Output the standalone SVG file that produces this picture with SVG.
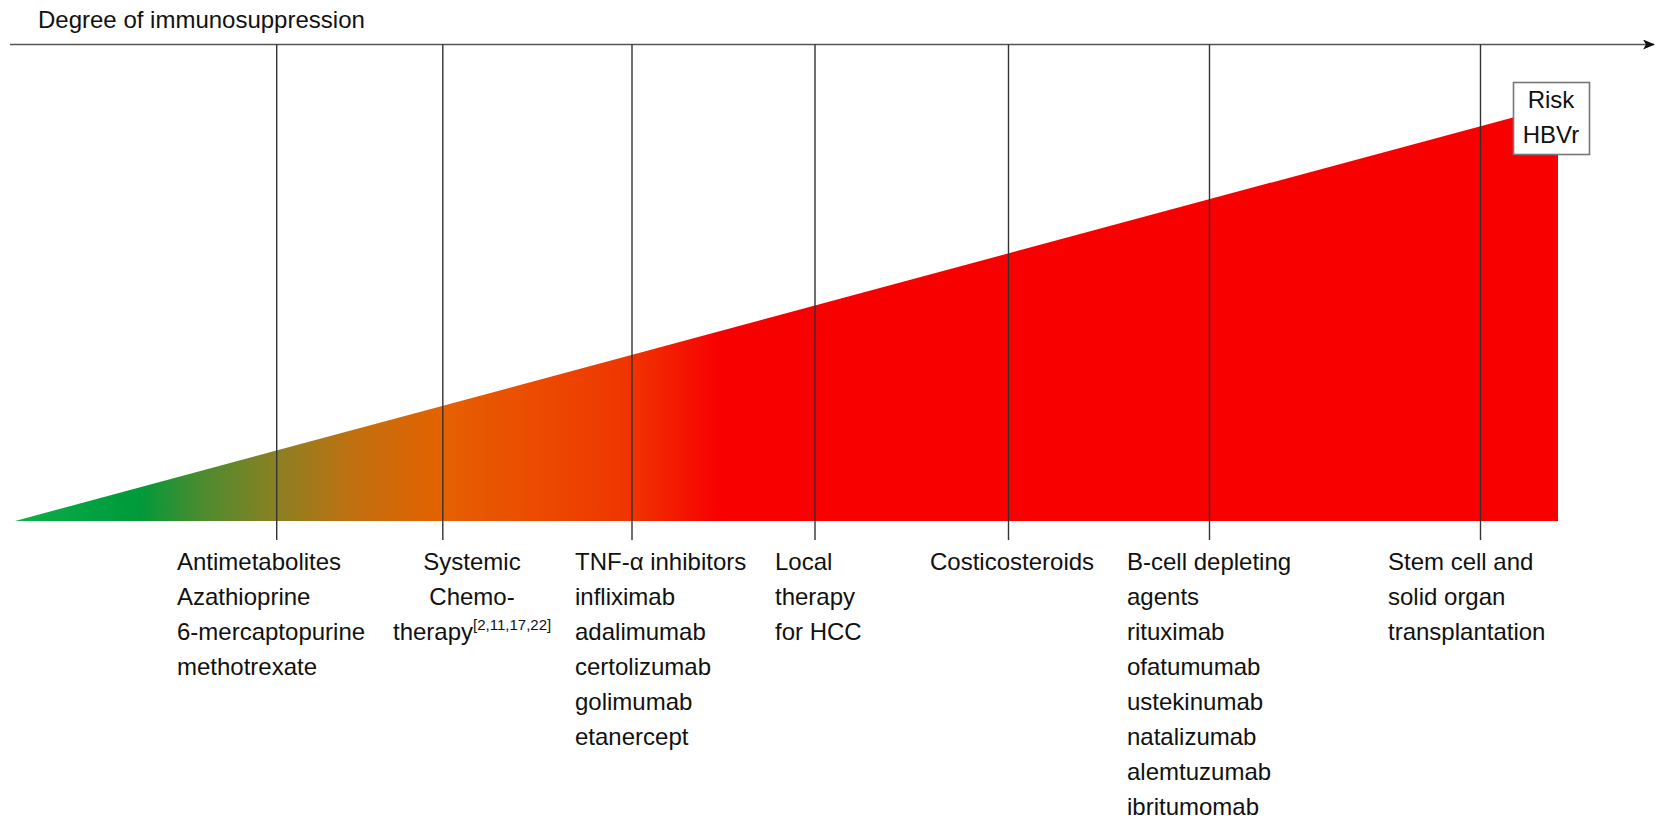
<svg xmlns="http://www.w3.org/2000/svg" width="1661" height="819" viewBox="0 0 1661 819">
  <style>
    .lbl { font-family: "Liberation Sans", Arial, sans-serif; font-size: 24px; fill: #111; }
    .sup { font-size: 15px; }
    .tick { stroke: #333; stroke-width: 1.4; fill: none; }
    .axis { stroke: #555; stroke-width: 1.6; fill: none; }
    .box { fill: #fff; stroke: #777; stroke-width: 1.6; }
  </style>
  <defs>
    <marker id="arrow" markerWidth="12" markerHeight="10" refX="11" refY="5" orient="auto" markerUnits="userSpaceOnUse">
      <path d="M0,0 L12,5 L0,10 L3,5 Z" fill="#111"/>
    </marker>
    <linearGradient id="risk" gradientUnits="userSpaceOnUse" x1="15" y1="0" x2="720" y2="0">
      <stop offset="0" stop-color="#10b04c"/>
      <stop offset="0.12" stop-color="#00a040"/>
      <stop offset="0.177" stop-color="#009a3a"/>
      <stop offset="0.262" stop-color="#4a8c30"/>
      <stop offset="0.37" stop-color="#8a8022"/>
      <stop offset="0.48" stop-color="#c07010"/>
      <stop offset="0.60" stop-color="#e46200"/>
      <stop offset="0.72" stop-color="#eb4e00"/>
      <stop offset="0.875" stop-color="#f03400"/>
      <stop offset="0.94" stop-color="#f41800"/>
      <stop offset="1" stop-color="#f80000"/>
    </linearGradient>
  </defs>

  <rect width="1661" height="819" fill="#fff"/>

  <!-- rising risk wedge -->
  <g id="risk-wedge">
    <polygon points="15,521 1558,521 1558,105.3" fill="url(#risk)"/>
  </g>

  <!-- horizontal axis -->
  <g id="axis">
    <line class="axis" x1="10" y1="44.5" x2="1654" y2="44.5" marker-end="url(#arrow)"/>
    <text class="lbl" x="38" y="28">Degree of immunosuppression</text>
  </g>

  <!-- tick lines -->
  <g id="connectors">
    <line class="tick" x1="276.7" y1="44.5" x2="276.7" y2="540"/>
    <line class="tick" x1="442.8" y1="44.5" x2="442.8" y2="540"/>
    <line class="tick" x1="632" y1="44.5" x2="632" y2="540"/>
    <line class="tick" x1="815" y1="44.5" x2="815" y2="540"/>
    <line class="tick" x1="1008.5" y1="44.5" x2="1008.5" y2="540"/>
    <line class="tick" x1="1209.5" y1="44.5" x2="1209.5" y2="540"/>
    <line class="tick" x1="1480.5" y1="44.5" x2="1480.5" y2="540"/>
  </g>

  <g id="antimetabolites">
    <text class="lbl" x="177" y="570">Antimetabolites</text>
    <text class="lbl" x="177" y="605">Azathioprine</text>
    <text class="lbl" x="177" y="640">6-mercaptopurine</text>
    <text class="lbl" x="177" y="675">methotrexate</text>
  </g>

  <g id="chemotherapy">
    <text class="lbl" x="472" y="570" text-anchor="middle">Systemic</text>
    <text class="lbl" x="472" y="605" text-anchor="middle">Chemo-</text>
    <text class="lbl" x="393" y="640">therapy<tspan class="sup" dy="-10">[2,11,17,22]</tspan></text>
  </g>

  <g id="tnf-inhibitors">
    <text class="lbl" x="575" y="570">TNF-α inhibitors</text>
    <text class="lbl" x="575" y="605">infliximab</text>
    <text class="lbl" x="575" y="640">adalimumab</text>
    <text class="lbl" x="575" y="675">certolizumab</text>
    <text class="lbl" x="575" y="710">golimumab</text>
    <text class="lbl" x="575" y="745">etanercept</text>
  </g>

  <g id="local-therapy">
    <text class="lbl" x="775" y="570">Local</text>
    <text class="lbl" x="775" y="605">therapy</text>
    <text class="lbl" x="775" y="640">for HCC</text>
  </g>

  <g id="corticosteroids">
    <text class="lbl" x="930" y="570">Costicosteroids</text>
  </g>

  <g id="b-cell-depleting">
    <text class="lbl" x="1127" y="570">B-cell depleting</text>
    <text class="lbl" x="1127" y="605">agents</text>
    <text class="lbl" x="1127" y="640">rituximab</text>
    <text class="lbl" x="1127" y="675">ofatumumab</text>
    <text class="lbl" x="1127" y="710">ustekinumab</text>
    <text class="lbl" x="1127" y="745">natalizumab</text>
    <text class="lbl" x="1127" y="780">alemtuzumab</text>
    <text class="lbl" x="1127" y="815">ibritumomab</text>
  </g>

  <g id="transplantation">
    <text class="lbl" x="1388" y="570">Stem cell and</text>
    <text class="lbl" x="1388" y="605">solid organ</text>
    <text class="lbl" x="1388" y="640">transplantation</text>
  </g>

  <g id="risk-label">
    <rect class="box" x="1513.5" y="82.5" width="76" height="72"/>
    <text class="lbl" x="1551" y="108" text-anchor="middle">Risk</text>
    <text class="lbl" x="1551" y="143" text-anchor="middle">HBVr</text>
  </g>
</svg>
